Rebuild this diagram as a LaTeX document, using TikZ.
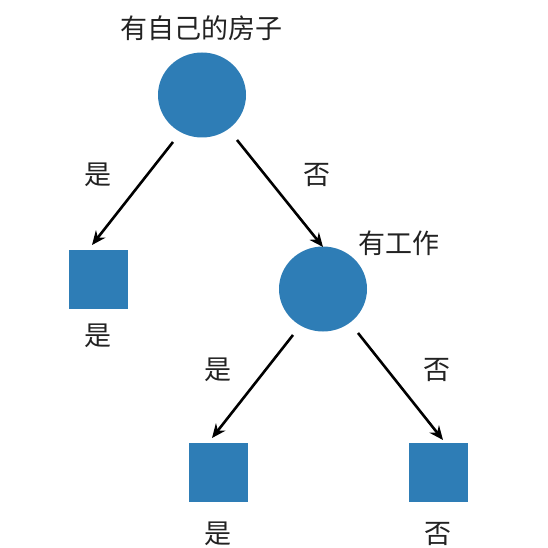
\documentclass[tikz,border=0pt]{standalone}
\usepackage{fontspec}
\setmainfont{Noto Sans CJK SC}
\usetikzlibrary{arrows.meta}
\definecolor{nodeblue}{RGB}{46,125,182}
\definecolor{txt}{RGB}{34,34,34}
\tikzset{
  decnode/.style={ellipse, fill=nodeblue, minimum width=88pt, minimum height=85pt, inner sep=0pt},
  leafnode/.style={rectangle, fill=nodeblue, minimum size=59pt, inner sep=0pt},
  lbl/.style={text=txt, font=\fontsize{27pt}{30pt}\selectfont, inner sep=0pt},
  edge/.style={line width=2.6pt, -{Stealth[length=14pt,width=12pt]}}
}
\usetikzlibrary{shapes.geometric}
\begin{document}
\begin{tikzpicture}[x=1pt,y=-1pt]
\useasboundingbox (0,0) rectangle (547,548);
\clip (0,0) rectangle (547,548);
\fill[white] (0,0) rectangle (547,548);
% nodes
\node[decnode] (root) at (202,95) {};
\node[lbl] (rootl) at (201,28) {有自己的房子};
\node[leafnode] (leaf1) at (98,279) {};
\node[lbl] (leaf1l) at (98,336) {是};
\node[decnode] (work) at (323,289) {};
\node[lbl] (workl) at (399,243) {有工作};
\node[leafnode] (leaf2) at (218,472) {};
\node[lbl] (leaf2l) at (218,534) {是};
\node[leafnode] (leaf3) at (438,472) {};
\node[lbl] (leaf3l) at (438,534) {否};
% edge labels
\node[lbl] (e1l) at (98,175) {是};
\node[lbl] (e2l) at (317,175) {否};
\node[lbl] (e3l) at (218,370) {是};
\node[lbl] (e4l) at (437,370) {否};
% edge endpoints
\coordinate (e1s) at (173,142);
\coordinate (e1e) at (92,245);
\coordinate (e2s) at (237,140);
\coordinate (e2e) at (323,247);
\coordinate (e3s) at (293,335);
\coordinate (e3e) at (212,438);
\coordinate (e4s) at (358,333);
\coordinate (e4e) at (443,440);
\draw[edge] (e1s) -- (e1e);
\draw[edge] (e2s) -- (e2e);
\draw[edge] (e3s) -- (e3e);
\draw[edge] (e4s) -- (e4e);
\end{tikzpicture}
\end{document}
